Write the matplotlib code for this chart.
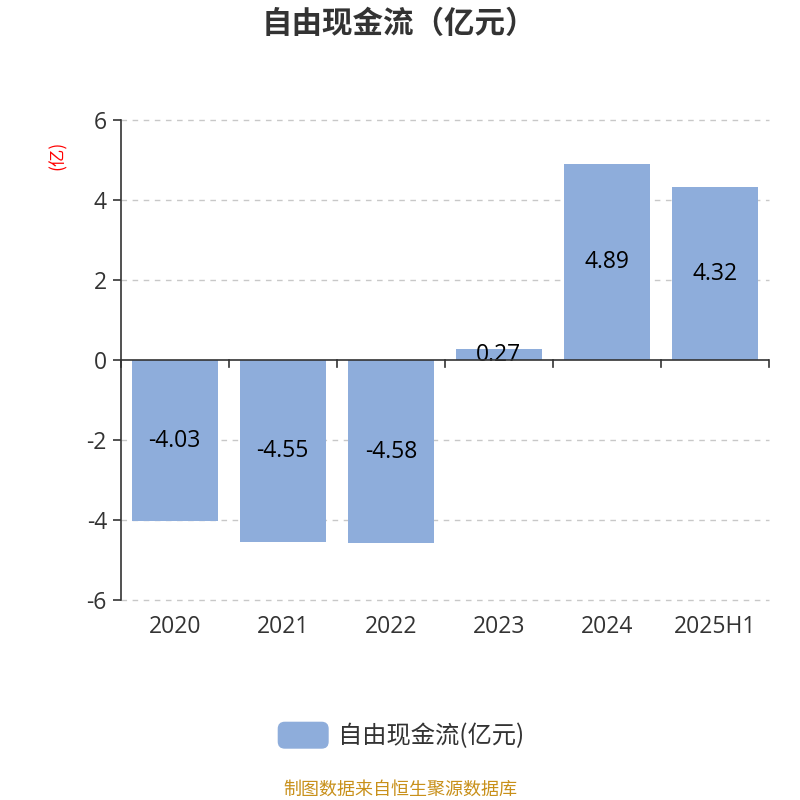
import matplotlib.pyplot as plt
import numpy as np
from matplotlib.patches import FancyBboxPatch

plt.rcParams['font.family'] = ['Open Sans', 'Noto Sans CJK SC', 'DejaVu Sans']

# data
years = ['2020', '2021', '2022', '2023', '2024', '2025H1']
fcf = [-4.03, -4.55, -4.58, 0.27, 4.89, 4.32]
yticks = [-6, -4, -2, 0, 2, 4, 6]

bar_color = '#8eaddb'
axis_color = '#333333'

fig = plt.figure(figsize=(8, 8), dpi=100)
ax = fig.add_axes([0.151, 0.25, 0.81, 0.60])

x = np.arange(len(years))
bars = ax.bar(x, fcf, width=0.8, color=bar_color, zorder=3)
for xi, v in zip(x, fcf):
    ax.text(xi, v / 2, f'{v:.2f}', ha='center', va='center', fontsize=16.5, color='black', zorder=4)

ax.set_xlim(-0.5, len(years) - 0.5)
ax.set_ylim(-6, 6)
ax.set_yticks(yticks)
ax.set_yticklabels([str(t) for t in yticks], fontsize=16.5, color=axis_color)
for t in yticks:
    if t != 0:
        ax.axhline(t, color='#c8c8c8', linestyle=(0, (4, 4)), linewidth=1, zorder=1, clip_on=False)

# category labels, ticks at boundaries
ax.set_xticks(x)
ax.set_xticklabels(years, fontsize=16.5, color=axis_color)
ax.tick_params(axis='x', length=0, pad=11)
ax.tick_params(axis='y', length=6, width=1.2, color=axis_color, pad=4)
for b in np.arange(-0.5, len(years), 1.0):
    ax.plot([b, b], [0, -0.17], color=axis_color, linewidth=1.2, clip_on=False, zorder=5)
ax.axhline(0, color=axis_color, linewidth=1.2, zorder=5)

for s in ['top', 'right', 'bottom']:
    ax.spines[s].set_visible(False)
ax.spines['left'].set_color(axis_color)
ax.spines['left'].set_linewidth(1.2)

fig.text(0.072, 0.806, '(亿)', rotation=90, color='red', fontsize=12.5, ha='center', va='center',
         family=['Noto Sans CJK SC'])
fig.text(0.498, 0.97, '自由现金流（亿元）', fontsize=22, fontweight='bold', color=axis_color,
         ha='center', va='center', family=['Noto Sans CJK SC'])

# legend
patch = FancyBboxPatch((0.348, 0.065), 0.062, 0.032, boxstyle='round,pad=0,rounding_size=0.008',
                       transform=fig.transFigure, color=bar_color)
fig.patches.append(patch)
fig.text(0.422, 0.0805, '自由现金流(亿元)', fontsize=17.5, color=axis_color, ha='left', va='center',
         family=['Noto Sans CJK SC'])

fig.text(0.5, 0.0125, '制图数据来自恒生聚源数据库', fontsize=13, color='#c8901a', ha='center', va='center',
         family=['Noto Sans CJK SC'])

fig.savefig('out.png', dpi=100)
